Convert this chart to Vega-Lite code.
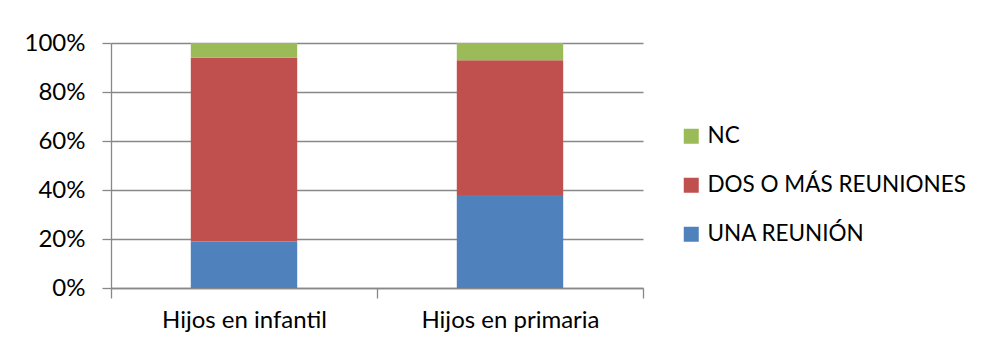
{
  "$schema": "https://vega.github.io/schema/vega-lite/v6.json",
  "width": 532,
  "height": 245,
  "autosize": {"type": "none"},
  "padding": {"left": 111, "top": 43, "right": 339, "bottom": 61},
  "background": "white",
  "data": {
    "values": [
      {"grupo": "Hijos en infantil", "respuesta": "UNA REUNIÓN", "pct": 0.19, "orden": 1},
      {"grupo": "Hijos en infantil", "respuesta": "DOS O MÁS REUNIONES", "pct": 0.75, "orden": 2},
      {"grupo": "Hijos en infantil", "respuesta": "NC", "pct": 0.06, "orden": 3},
      {"grupo": "Hijos en primaria", "respuesta": "UNA REUNIÓN", "pct": 0.38, "orden": 1},
      {"grupo": "Hijos en primaria", "respuesta": "DOS O MÁS REUNIONES", "pct": 0.55, "orden": 2},
      {"grupo": "Hijos en primaria", "respuesta": "NC", "pct": 0.07, "orden": 3}
    ]
  },
  "mark": {"type": "bar", "width": {"band": 0.4}},
  "encoding": {
    "x": {
      "field": "grupo",
      "type": "nominal",
      "title": null,
      "scale": {"paddingInner": 0, "paddingOuter": 0},
      "axis": {
        "tickBand": "extent",
        "tickSize": 10,
        "labelAngle": 0,
        "labelPadding": 10,
        "domainColor": "#888888",
        "tickColor": "#888888",
        "grid": false
      }
    },
    "y": {
      "field": "pct",
      "type": "quantitative",
      "stack": "zero",
      "title": null,
      "scale": {"domain": [0, 1]},
      "axis": {
        "values": [0, 0.2, 0.4, 0.6, 0.8, 1],
        "format": ".0%",
        "tickSize": 9,
        "labelPadding": 17,
        "grid": true,
        "gridColor": "#888888",
        "domainColor": "#888888",
        "tickColor": "#888888"
      }
    },
    "color": {
      "field": "respuesta",
      "type": "nominal",
      "scale": {
        "domain": ["NC", "DOS O MÁS REUNIONES", "UNA REUNIÓN"],
        "range": ["#9BBB59", "#C0504D", "#4F81BD"]
      },
      "legend": {
        "title": null,
        "orient": "none",
        "legendX": 569,
        "legendY": 82,
        "symbolType": "square",
        "symbolSize": 225,
        "symbolStrokeWidth": 0,
        "labelOffset": 5,
        "rowPadding": 26,
        "labelLimit": 400
      }
    },
    "order": {"field": "orden", "type": "quantitative"}
  },
  "config": {
    "view": {"stroke": null},
    "font": "Lato",
    "axis": {
      "labelFont": "Lato",
      "labelFontSize": 24,
      "labelColor": "#000000",
      "domainWidth": 1.3,
      "tickWidth": 1.3,
      "gridWidth": 1.3
    },
    "legend": {
      "labelFont": "Lato",
      "labelFontSize": 22.5,
      "labelColor": "#000000",
      "padding": 0
    }
  }
}
